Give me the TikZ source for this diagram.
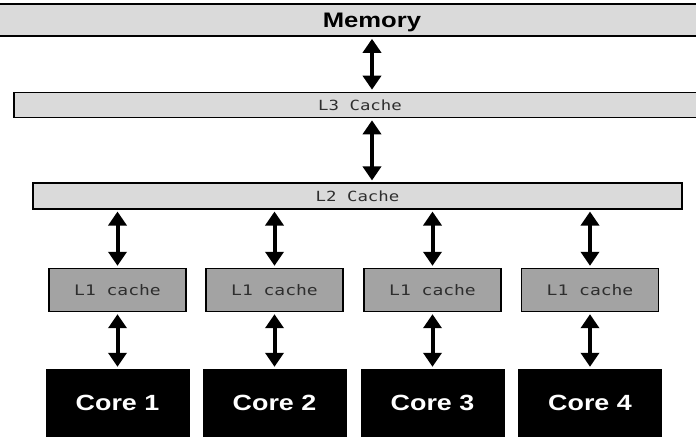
\documentclass[tikz,border=0pt]{standalone}
\usepackage{fontspec}
\usetikzlibrary{arrows.meta}
\newfontfamily\boldsans[FakeStretch=1.22]{Liberation Sans Bold}
\newfontfamily\monof[FakeStretch=1.24]{DejaVu Sans Mono}
\definecolor{lightbox}{HTML}{DADADA}
\definecolor{midbox}{HTML}{A3A3A3}
\definecolor{monotext}{HTML}{2E2E2E}
\tikzset{
  membox/.style={draw=black, line width=1.6pt, fill=lightbox, inner sep=0pt},
  l1box/.style={draw=black, line width=1.4pt, fill=midbox, inner sep=0pt,
    minimum width=137pt, minimum height=43pt, font=\monof\fontsize{14.5}{16}\selectfont, text=monotext},
  corebox/.style={fill=black, inner sep=0pt, minimum width=144pt, minimum height=68pt,
    font=\boldsans\fontsize{22}{24}\selectfont, text=white},
  biarrow/.style={line width=4pt, {Triangle[width=18pt,length=14pt]}-{Triangle[width=18pt,length=14pt]},
    shorten <=2pt, shorten >=2pt}
}
\begin{document}
\begin{tikzpicture}[x=1pt,y=-1pt]
\useasboundingbox[fill=white] (0,0) rectangle (696,443);
\node[membox, minimum width=760pt, minimum height=32pt, text height=15pt, text depth=0pt, font=\boldsans\fontsize{21}{23}\selectfont] (mem) at (372,20) {Memory};
\node[membox, minimum width=692pt, minimum height=25pt, font=\monof\fontsize{14}{16}\selectfont, text=monotext] (l3) at (360,105) {L3 Cache};
\node[membox, minimum width=649pt, minimum height=25.5pt, font=\monof\fontsize{14}{16}\selectfont, text=monotext] (l2) at (357.5,196) {L2 Cache};
\coordinate (ax) at (372,0);
\node[l1box] (l1a) at (117.5,290) {L1 cache};
\node[l1box] (l1b) at (274.5,290) {L1 cache};
\node[l1box] (l1c) at (432.5,290) {L1 cache};
\node[l1box] (l1d) at (590,290) {L1 cache};
\node[corebox] (c1) at (117.5,403) {Core 1};
\node[corebox] (c2) at (274.5,403) {Core 2};
\node[corebox] (c3) at (432.5,403) {Core 3};
\node[corebox] (c4) at (590,403) {Core 4};
\draw[biarrow] (mem.south -| ax) -- (l3.north -| ax);
\draw[biarrow] (l3.south -| ax) -- (l2.north -| ax);
\foreach \n in {l1a,l1b,l1c,l1d}{
  \draw[biarrow] (l2.south -| \n.north) -- (\n.north);
}
\draw[biarrow] (l1a.south) -- (c1.north);
\draw[biarrow] (l1b.south) -- (c2.north);
\draw[biarrow] (l1c.south) -- (c3.north);
\draw[biarrow] (l1d.south) -- (c4.north);
\end{tikzpicture}
\end{document}
